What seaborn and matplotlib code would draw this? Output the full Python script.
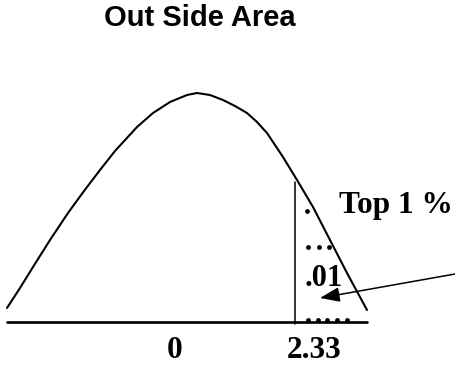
import numpy as np
import pandas as pd
import seaborn as sns
import matplotlib.pyplot as plt

# bell curve (pixel space, y grows downward)
curve_x = [7, 20, 33, 50, 68, 84, 100, 115, 126, 137, 153, 170, 187, 197,
           210, 223, 235, 247, 257, 267, 283, 297, 313, 330, 347, 367]
curve_y = [308, 288, 267, 240, 213, 191, 170, 151, 139, 127, 113, 102, 95, 93,
           95, 100, 106, 113, 122, 133, 157, 180, 207, 240, 273, 310]

# dotted fill inside the tail area
dot_x = [307, 308, 319, 329, 308, 318, 327, 337, 347]
dot_y = [211, 247, 247, 247, 320, 320, 320, 320, 320]

base_x = [7, 367]
base_y = [322, 322]
cut_x = [295, 295]
cut_y = [182, 324]

tick_labels = ['0', '2.33']
tick_pos = [175, 314]

title = 'Out Side Area'
tail_label = 'Top 1 %'
tail_value = '.01'


def plot_tail_area():
    sns.set_theme(style='white')
    plt.rcParams['font.family'] = ['Liberation Serif', 'DejaVu Serif']
    plt.rcParams['text.color'] = 'black'
    fig = plt.figure(figsize=(4.55, 3.67), dpi=100)
    ax = fig.add_axes([0, 0, 1, 1])
    curve_df = pd.DataFrame({'x': curve_x, 'y': curve_y})
    sns.lineplot(data=curve_df, x='x', y='y', sort=False, estimator=None, color='black',
                 lw=1.5, ax=ax, solid_joinstyle='round')
    sns.lineplot(x=base_x, y=base_y, estimator=None, color='black', lw=1.9, ax=ax)
    sns.lineplot(x=cut_x, y=cut_y, estimator=None, sort=False, color='black', lw=1.1, ax=ax)
    sns.scatterplot(x=dot_x, y=dot_y, color='black', s=12, linewidth=0, ax=ax)

    ax.text(200, 18, title, ha='center', va='center', fontsize=21, fontweight='bold',
            color='black', family=['Liberation Sans', 'DejaVu Sans'])
    for lab, pos in zip(tick_labels, tick_pos):
        ax.text(pos, 358, lab, ha='center', va='baseline', fontsize=22.5, fontweight='bold',
                color='black')
    ax.text(339, 213, tail_label, ha='left', va='baseline', fontsize=22.5, fontweight='bold',
            color='black')
    ax.text(305, 286, tail_value, ha='left', va='baseline', fontsize=22, fontweight='bold',
            color='black')
    ax.annotate('', xy=(320, 298), xytext=(455, 274),
                arrowprops=dict(arrowstyle='-|>,head_length=1.2,head_width=0.45',
                                mutation_scale=10, lw=1.1, color='black',
                                shrinkA=0, shrinkB=0))

    ax.set_xlim(0, 455)
    ax.set_ylim(367, 0)
    ax.set_axis_off()
    return fig


if __name__ == '__main__':
    fig = plot_tail_area()
    fig.savefig('out.png', dpi=100, facecolor='white')
